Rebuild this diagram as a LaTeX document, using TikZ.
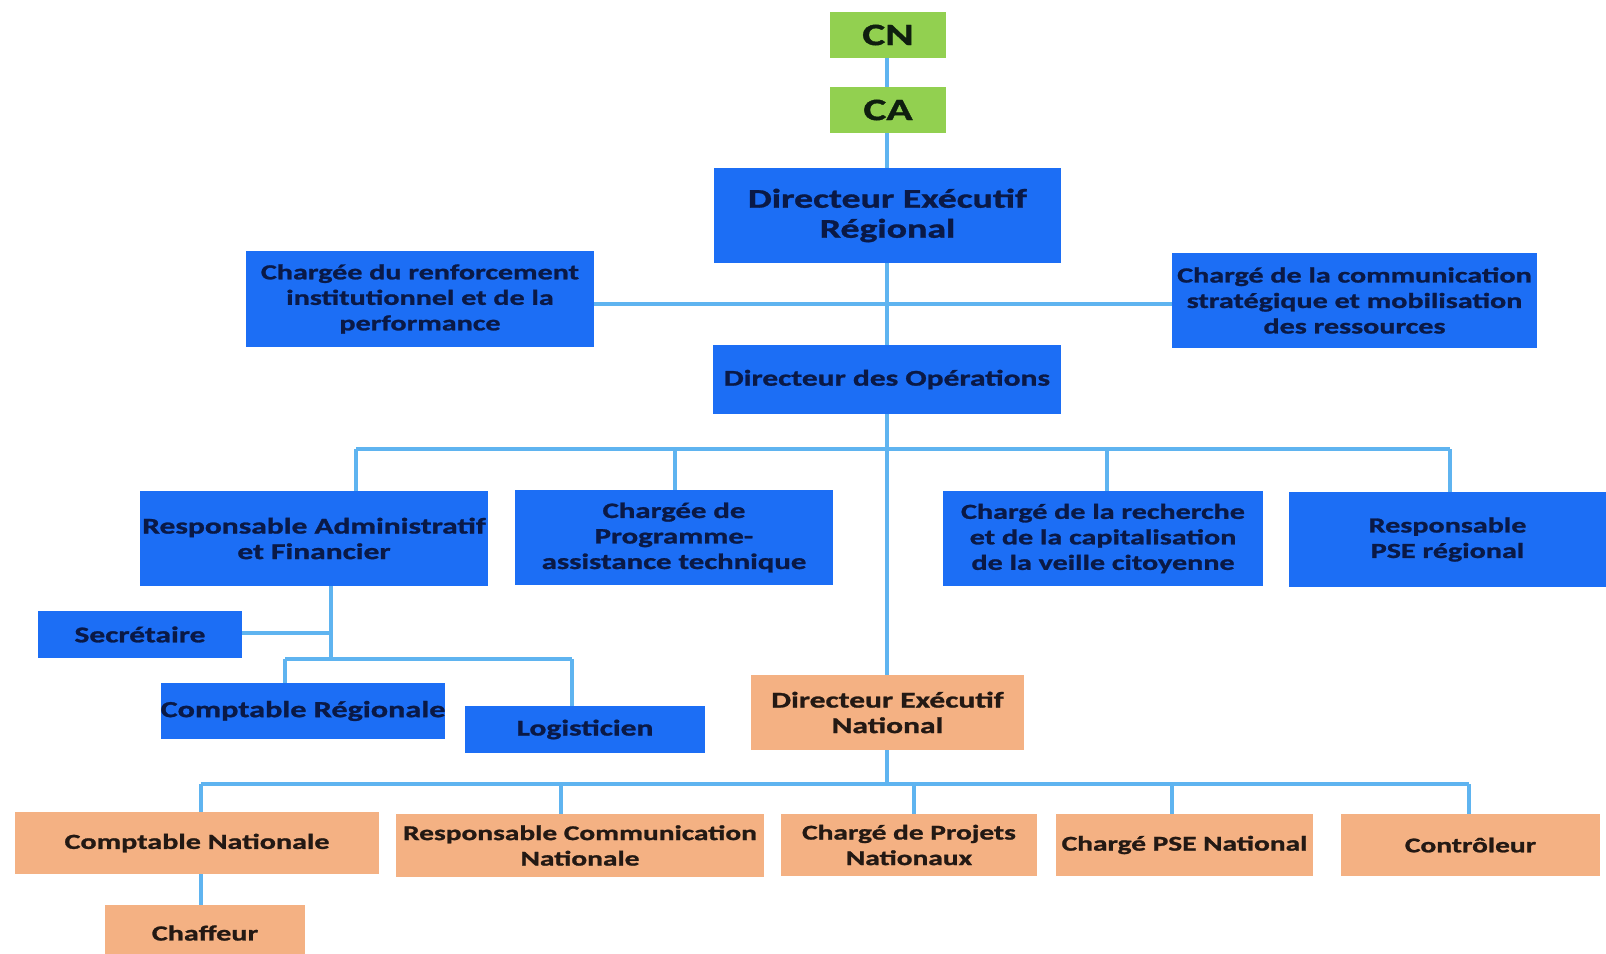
\documentclass[tikz,border=0pt]{standalone}
\usepackage{fontspec}
\setmainfont{Carlito}[FakeStretch=1.4, BoldFeatures={FakeBold=1.2}]
\definecolor{boxblue}{RGB}{28,110,245}
\definecolor{lineblue}{RGB}{95,180,240}
\definecolor{boxgreen}{RGB}{146,208,80}
\definecolor{boxorange}{RGB}{244,177,131}
\definecolor{navytext}{RGB}{10,25,70}
\definecolor{browntext}{RGB}{35,25,20}
\definecolor{greentext}{RGB}{15,30,15}
\tikzset{
  box/.style={rectangle, inner sep=0pt, align=center, font=\bfseries},
  bluebox/.style={box, fill=boxblue, text=navytext},
  greenbox/.style={box, fill=boxgreen, text=greentext, font=\bfseries\fontsize{31}{33}\selectfont},
  orangebox/.style={box, fill=boxorange, text=browntext},
  fs/.style={font=\bfseries\fontsize{#1}{25.5}\selectfont},
  conn/.style={draw=lineblue, line width=3.7pt}
}
\begin{document}
\begin{tikzpicture}[x=1pt,y=-1pt]
\useasboundingbox (0,0) rectangle (1606,953);
% top
\node[greenbox, minimum width=116, minimum height=46] (cn) at (888,35) {CN};
\node[greenbox, minimum width=116, minimum height=46] (ca) at (888,110) {CA};
\node[bluebox, minimum width=347, minimum height=95, font=\bfseries\fontsize{27}{30}\selectfont] (der) at (887.5,215.5) {Directeur Exécutif\\Régional};
\node[bluebox, fs=21.5, minimum width=348, minimum height=96] (cr) at (420,299) {Chargée du renforcement\\institutionnel et de la\\performance};
\node[bluebox, fs=21.5, minimum width=365, minimum height=95] (cc) at (1354.5,300.5) {Chargé de la communication\\stratégique et mobilisation\\des ressources};
\node[bluebox, fs=22.5, minimum width=348, minimum height=69] (do) at (887,379.5) {Directeur des Opérations};
% second level
\node[bluebox, fs=22.5, minimum width=348, minimum height=95] (raf) at (314,538.5) {Responsable Administratif\\et Financier};
\node[bluebox, fs=22, minimum width=318, minimum height=95] (cp) at (674,537.5) {Chargée de\\Programme-\\assistance technique};
\node[bluebox, fs=21.5, minimum width=320, minimum height=95] (crech) at (1103,538.5) {Chargé de la recherche\\et de la capitalisation\\de la veille citoyenne};
\node[bluebox, fs=21.5, minimum width=317, minimum height=95] (pse) at (1447.5,539.5) {Responsable\\PSE régional};
% RAF children
\node[bluebox, fs=22.5, minimum width=204, minimum height=47] (sec) at (140,634.5) {Secrétaire};
\node[bluebox, fs=23, minimum width=270, minimum height=56] (compreg) at (303,711) {Comptable Régionale};
\node[bluebox, fs=22.5, minimum width=240, minimum height=47] (log) at (585,729.5) {Logisticien};
% national
\node[orangebox, fs=22.5, minimum width=273, minimum height=75] (den) at (887.5,712.5) {Directeur Exécutif\\National};
\node[orangebox, fs=21.5, minimum width=364, minimum height=62] (cnat) at (197,843) {Comptable Nationale};
\node[orangebox, fs=21, minimum width=368, minimum height=63] (rcn) at (580,845.5) {Responsable Communication\\Nationale};
\node[orangebox, fs=21, minimum width=256, minimum height=62] (cpn) at (909,845) {Chargé de Projets\\Nationaux};
\node[orangebox, fs=21, minimum width=257, minimum height=62] (cpse) at (1184.5,845) {Chargé PSE National};
\node[orangebox, fs=21, minimum width=259, minimum height=62] (contr) at (1470.5,845) {Contrôleur};
\node[orangebox, fs=21.5, minimum width=200, minimum height=56] (chaf) at (205,933) {Chaffeur};
% bus coordinates
\coordinate (spine) at (887,0);
\coordinate (b1L) at (356,449);
\coordinate (b1R) at (1450,449);
\coordinate (rafx) at (331,0);
\coordinate (b2L) at (285,659);
\coordinate (b2R) at (572,659);
\coordinate (b3L) at (201,784);
\coordinate (b3R) at (1469,784);
\begin{scope}[on background layer/.try]
\draw[conn] (cn.south -| spine) -- (ca.north -| spine);
\draw[conn] (ca.south -| spine) -- (der.north -| spine);
\draw[conn] (der.south -| spine) -- (do.north -| spine);
\draw[conn] (cr.east |- 0,304) -- (cc.west |- 0,304);
\draw[conn] (do.south -| spine) -- (den.north -| spine);
\draw[conn] (b1L) -- (b1R);
\draw[conn] (b1L) -- (b1L |- raf.north);
\draw[conn] (cp.north -| 675,0) -- (675,449);
\draw[conn] (crech.north -| 1107,0) -- (1107,449);
\draw[conn] (b1R) -- (b1R |- pse.north);
\draw[conn] (raf.south -| rafx) -- (331,659);
\draw[conn] (sec.east |- 0,633) -- (331,633);
\draw[conn] (b2L) -- (b2R);
\draw[conn] (b2L) -- (b2L |- compreg.north);
\draw[conn] (b2R) -- (b2R |- log.north);
\draw[conn] (den.south -| spine) -- (887,784);
\draw[conn] (b3L) -- (b3R);
\draw[conn] (b3L) -- (b3L |- cnat.north);
\draw[conn] (561,784) -- (rcn.north -| 561,0);
\draw[conn] (914,784) -- (cpn.north -| 914,0);
\draw[conn] (1172,784) -- (cpse.north -| 1172,0);
\draw[conn] (b3R) -- (b3R |- contr.north);
\draw[conn] (cnat.south -| b3L) -- (chaf.north -| b3L);
\end{scope}
\end{tikzpicture}
\end{document}
